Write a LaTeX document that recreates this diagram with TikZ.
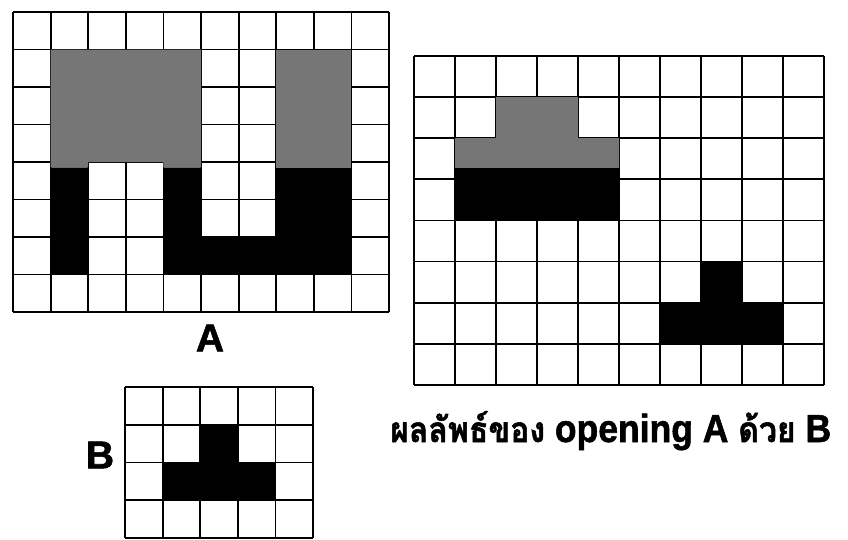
\documentclass[tikz,border=0pt]{standalone}
\usepackage{fontspec}
\setmainfont{Liberation Sans}[BoldFeatures={FakeBold=1.5}]
\newfontfamily\thaifont[Script=Thai,Scale=0.9,BoldFeatures={FakeBold=1.5}]{Loma}
\definecolor{cellgray}{HTML}{767676}

\begin{document}
\begin{tikzpicture}[x=1pt,y=-1pt,
  gridline/.style={line width=1.8pt},
  lettertext/.style={font=\fontsize{39}{39}\selectfont\bfseries,inner sep=0pt}]
\useasboundingbox (0,0) rectangle (848,539);
% image A
\begin{scope}[shift={(13,12)},x=37.6pt,y=-37.5pt]
  \foreach \i in {0,...,10} \draw[gridline] (\i,0) -- (\i,8);
  \foreach \j in {0,...,8} \draw[gridline] (0,\j) -- (10,\j);
  \fill[cellgray] (1,1) rectangle (2,4.15) (2,1) rectangle (4,4) (4,1) rectangle (5,4.15);
  \fill[cellgray] (7,1) rectangle (9,4.15);
  \fill[black] (1,4.15) rectangle (2,7) (4,4.15) rectangle (5,7) (5,6) rectangle (7,7);
  \fill[black] (7,4.15) rectangle (9,7);
\end{scope}
% result of opening
\begin{scope}[shift={(414,56)},x=41pt,y=-41.1pt]
  \foreach \i in {0,...,10} \draw[gridline] (\i,0) -- (\i,8);
  \foreach \j in {0,...,8} \draw[gridline] (0,\j) -- (10,\j);
  \fill[cellgray] (2,1) rectangle (4,2) (1,2) rectangle (5,2.72);
  \fill[black] (1,2.72) rectangle (5,4);
  \fill[black] (7,5) rectangle (8,6) (6,6) rectangle (9,7);
\end{scope}
% structuring element B
\begin{scope}[shift={(125,387)},x=37.6pt,y=-37.75pt]
  \foreach \i in {0,...,5} \draw[gridline] (\i,0) -- (\i,4);
  \foreach \j in {0,...,4} \draw[gridline] (0,\j) -- (5,\j);
  \fill[black] (2,1) rectangle (3,2) (1,2) rectangle (4,3);
\end{scope}
\node[lettertext] (labA) at (210,338) {A};
\node[lettertext] (labB) at (100,455) {B};
\node[lettertext,anchor=base west] (caption) at (390,442)
  {\scalebox{0.91}[1]{{\thaifont ผลลัพธ์ของ} opening A {\thaifont ด้วย} B}};
\end{tikzpicture}
\end{document}
